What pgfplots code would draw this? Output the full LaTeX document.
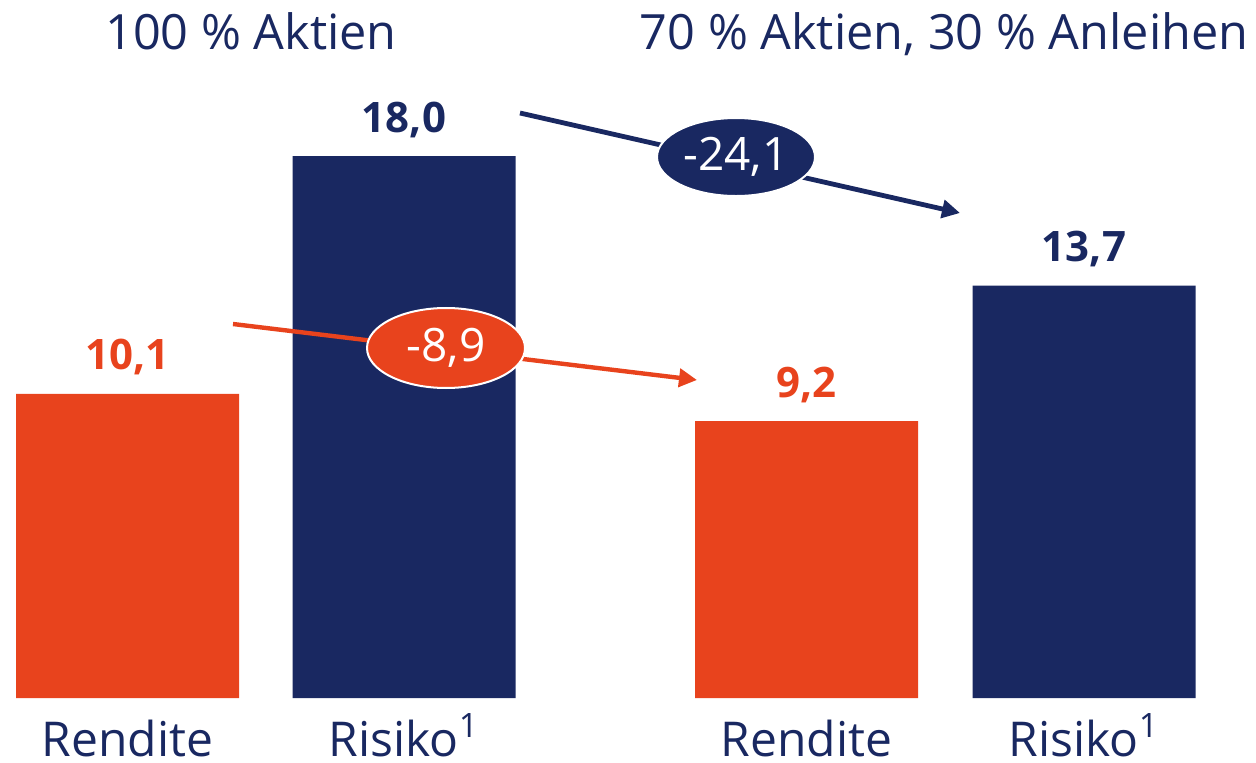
\documentclass[border=0pt]{standalone}
\usepackage{pgfplots}
\pgfplotsset{compat=1.18}
\usepackage{fontspec}
\setmainfont{Open Sans}
\usetikzlibrary{arrows.meta,shapes.geometric}
\definecolor{navy}{HTML}{192861}
\definecolor{orng}{HTML}{E8431D}
\begin{document}
\begin{tikzpicture}
\begin{axis}[
  scale only axis, width=628pt, height=381pt,
  xmin=0, xmax=1256, ymin=-2.126, ymax=23.189,
  clip=false,
  ybar, bar width=111.5pt, bar shift=0pt,
  axis line style={draw=none},
  major tick length=0pt,
  ytick=\empty,
  xtick={127.5,404,806.5,1084},
  xticklabels={Rendite, Risiko\textsuperscript{1}, Rendite, Risiko\textsuperscript{1}},
  xticklabel style={font=\fontsize{24}{24}\selectfont, text=navy, anchor=base, yshift=3pt, inner sep=0pt},
  nodes near coords,
  /pgf/number format/.cd, use comma, fixed, fixed zerofill, precision=1, assume math mode=true,
  /pgfplots/.cd,
  every node near coord/.append style={font=\bfseries\fontsize{21}{21}\selectfont, anchor=base, yshift=12pt, inner sep=0pt},
]
\addplot[fill=orng, draw=none, every node near coord/.append style={text=orng}] coordinates {(127.5,10.1) (806.5,9.2)};
\addplot[fill=navy, draw=none, every node near coord/.append style={text=navy}] coordinates {(404,18.0) (1084,13.7)};

% titles
\node[anchor=base, text=navy, font=\fontsize{24.3}{24.3}\selectfont, inner sep=0pt] at (axis cs:251,21.53) {100 \% Aktien};
\node[anchor=base, text=navy, font=\fontsize{24.3}{24.3}\selectfont, inner sep=0pt] at (axis cs:944,21.53) {70 \% Aktien, 30 \% Anleihen};

% arrows
\draw[navy, line width=2.4pt, -{Triangle[length=9pt,width=9pt]}] (axis cs:520,19.435) -- (axis cs:960,16.113);
\node[ellipse, fill=navy, draw=white, line width=1pt, minimum width=79pt, minimum height=39pt, inner sep=0pt, text=white, font=\fontsize{23}{23}\selectfont] at (axis cs:736,17.973) {-24,1};
\draw[orng, line width=2.2pt, -{Triangle[length=9pt,width=9pt]}] (axis cs:233,12.425) -- (axis cs:697,10.565);
\node[ellipse, fill=orng, draw=white, line width=1pt, minimum width=79pt, minimum height=40pt, inner sep=0pt, text=white, font=\fontsize{23}{23}\selectfont] at (axis cs:446,11.628) {-8,9};
\end{axis}
\pgfresetboundingbox
\useasboundingbox (current axis.south west) rectangle (current axis.north east);
\end{tikzpicture}
\end{document}
